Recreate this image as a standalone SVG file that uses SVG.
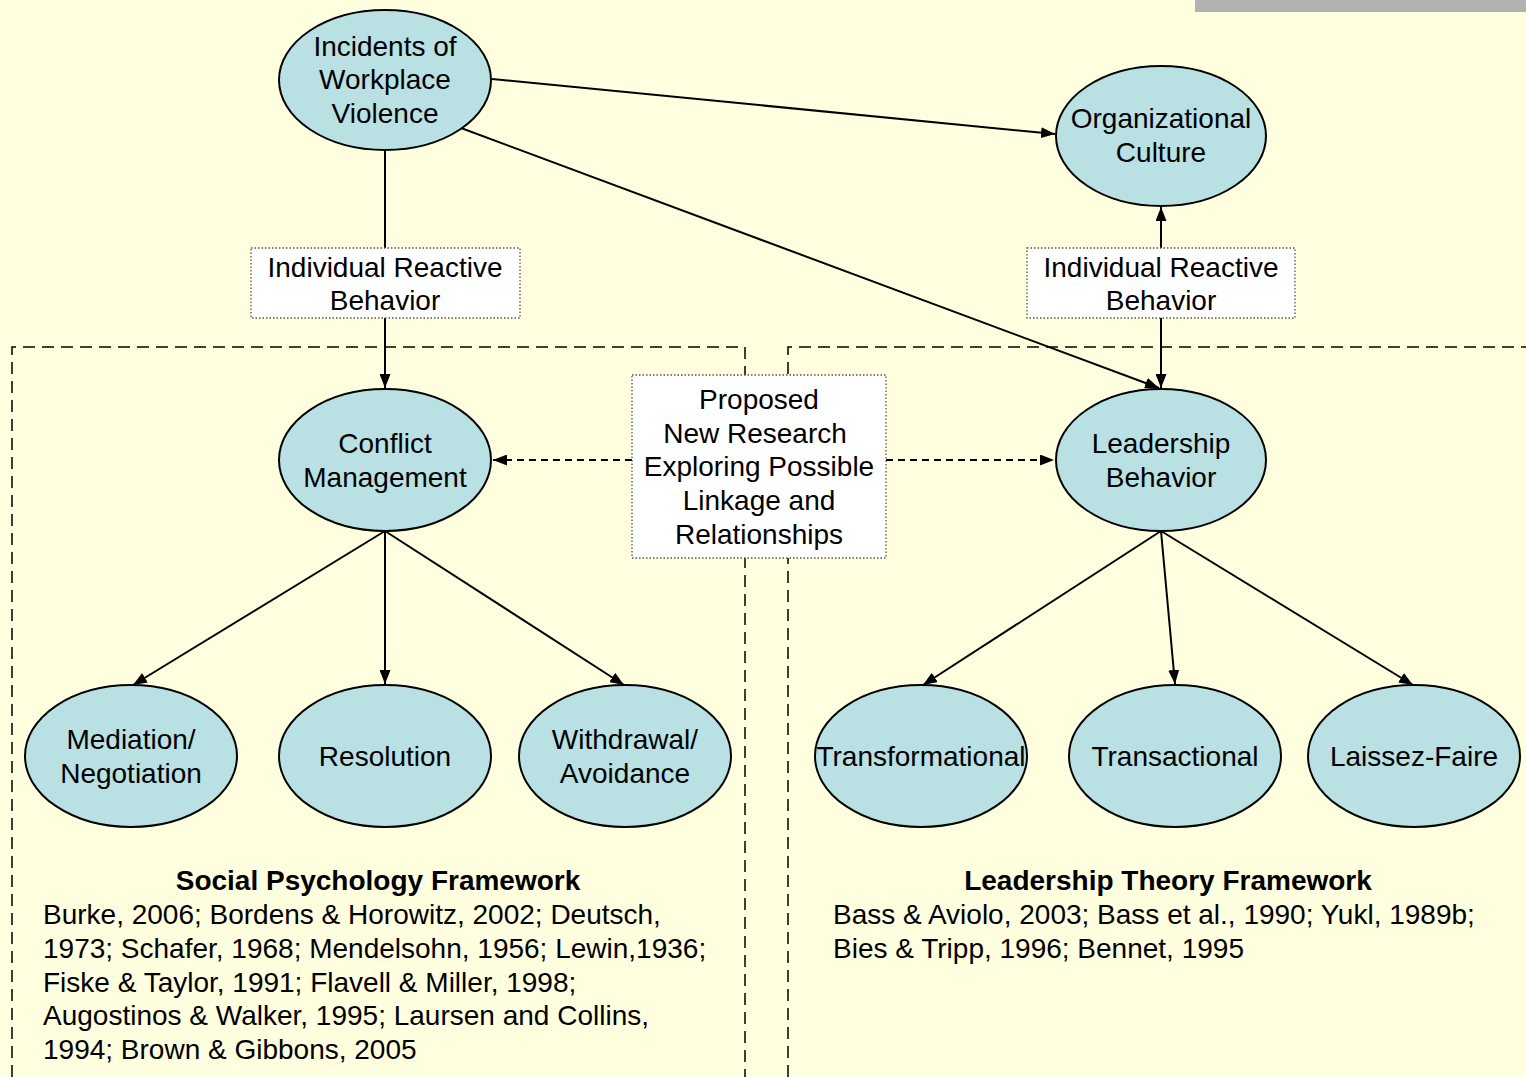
<svg xmlns="http://www.w3.org/2000/svg" width="1526" height="1077" viewBox="0 0 1526 1077">
<style>
.n ellipse{fill:#B9E0E3;stroke:#000;stroke-width:2}
.t{font-family:"Liberation Sans",Arial,sans-serif;font-size:28px;fill:#000;text-anchor:middle}
.ref{font-family:"Liberation Sans",Arial,sans-serif;font-size:28px;fill:#000}
.hd{font-family:"Liberation Sans",Arial,sans-serif;font-size:28px;font-weight:bold;fill:#000;text-anchor:middle}
.lb rect{fill:#fff;stroke:#555;stroke-width:1.3;stroke-dasharray:1.5 2}
.c line{stroke:#000;stroke-width:2}
.c .d{stroke-dasharray:7 5}
.fr{fill:none;stroke:#000;stroke-width:1.5;stroke-dasharray:12 7}
</style>
<defs>
<marker id="a" viewBox="0 0 14 11" refX="14" refY="5.5" markerWidth="14" markerHeight="11" markerUnits="userSpaceOnUse" orient="auto">
<path d="M0,0 L14,5.5 L0,11 z" fill="#000"/>
</marker>
</defs>
<rect width="1526" height="1077" fill="#FFFFE0"/>
<rect x="1195" y="0" width="331" height="12" fill="#B2B2B2"/>
<g id="frames">
<polyline class="fr" points="12,1077 12,347 745,347 745,1077"/>
<polyline class="fr" points="788,1077 788,347 1526,347"/>
</g>
<g id="connectors" class="c">
<line x1="385" y1="150" x2="385" y2="248"/>
<line x1="385" y1="318" x2="385" y2="388" marker-end="url(#a)"/>
<line x1="492" y1="79" x2="1055" y2="134" marker-end="url(#a)"/>
<line x1="461" y1="128" x2="1159" y2="388" marker-end="url(#a)"/>
<line x1="1161" y1="248" x2="1161" y2="207" marker-end="url(#a)"/>
<line x1="1161" y1="318" x2="1161" y2="388" marker-end="url(#a)"/>
<line class="d" x1="632" y1="460" x2="493" y2="460" marker-end="url(#a)"/>
<line class="d" x1="886" y1="460" x2="1054" y2="460" marker-end="url(#a)"/>
<line x1="385" y1="531" x2="133" y2="685" marker-end="url(#a)"/>
<line x1="385" y1="531" x2="385" y2="684" marker-end="url(#a)"/>
<line x1="385" y1="531" x2="624" y2="685" marker-end="url(#a)"/>
<line x1="1161" y1="531" x2="923" y2="685" marker-end="url(#a)"/>
<line x1="1161" y1="531" x2="1175" y2="684" marker-end="url(#a)"/>
<line x1="1161" y1="531" x2="1413" y2="685" marker-end="url(#a)"/>
</g>
<g id="lbl-left" class="lb"><rect x="251" y="248" width="269" height="70"/>
<text class="t" x="385" y="277">Individual Reactive</text><text class="t" x="385" y="310">Behavior</text></g>
<g id="lbl-right" class="lb"><rect x="1027" y="248" width="268" height="70"/>
<text class="t" x="1161" y="277">Individual Reactive</text><text class="t" x="1161" y="310">Behavior</text></g>
<g id="lbl-proposed" class="lb"><rect x="632" y="375" width="254" height="183"/>
<text class="t" x="759" y="409">Proposed</text>
<text class="t" x="755" y="443">New Research</text>
<text class="t" x="759" y="476">Exploring Possible</text>
<text class="t" x="759" y="510">Linkage and</text>
<text class="t" x="759" y="544">Relationships</text></g>
<g id="incidents" class="n"><ellipse cx="385" cy="80" rx="106" ry="70"/>
<text class="t" x="385" y="56">Incidents of</text><text class="t" x="385" y="89">Workplace</text><text class="t" x="385" y="123">Violence</text></g>
<g id="culture" class="n"><ellipse cx="1161" cy="136" rx="105" ry="70"/>
<text class="t" x="1161" y="128">Organizational</text><text class="t" x="1161" y="162">Culture</text></g>
<g id="conflict" class="n"><ellipse cx="385" cy="460" rx="106" ry="71"/>
<text class="t" x="385" y="453">Conflict</text><text class="t" x="385" y="487">Management</text></g>
<g id="leadership" class="n"><ellipse cx="1161" cy="460" rx="105" ry="71"/>
<text class="t" x="1161" y="453">Leadership</text><text class="t" x="1161" y="487">Behavior</text></g>
<g id="mediation" class="n"><ellipse cx="131" cy="756" rx="106" ry="71"/>
<text class="t" x="131" y="749">Mediation/</text><text class="t" x="131" y="783">Negotiation</text></g>
<g id="resolution" class="n"><ellipse cx="385" cy="756" rx="106" ry="71"/>
<text class="t" x="385" y="766">Resolution</text></g>
<g id="withdrawal" class="n"><ellipse cx="625" cy="756" rx="106" ry="71"/>
<text class="t" x="625" y="749">Withdrawal/</text><text class="t" x="625" y="783">Avoidance</text></g>
<g id="transformational" class="n"><ellipse cx="921" cy="756" rx="106" ry="71"/>
<text class="t" x="921" y="766">Transformational</text></g>
<g id="transactional" class="n"><ellipse cx="1175" cy="756" rx="106" ry="71"/>
<text class="t" x="1175" y="766">Transactional</text></g>
<g id="laissez" class="n"><ellipse cx="1414" cy="756" rx="106" ry="71"/>
<text class="t" x="1414" y="766">Laissez-Faire</text></g>
<g id="social-refs">
<text class="hd" x="378" y="890">Social Psychology Framework</text>
<text class="ref" x="43" y="924">Burke, 2006; Bordens &amp; Horowitz, 2002; Deutsch,</text>
<text class="ref" x="43" y="958">1973; Schafer, 1968; Mendelsohn, 1956; Lewin,1936;</text>
<text class="ref" x="43" y="992">Fiske &amp; Taylor, 1991; Flavell &amp; Miller, 1998;</text>
<text class="ref" x="43" y="1025">Augostinos &amp; Walker, 1995; Laursen and Collins,</text>
<text class="ref" x="43" y="1059">1994; Brown &amp; Gibbons, 2005</text>
</g>
<g id="leader-refs">
<text class="hd" x="1168" y="890">Leadership Theory Framework</text>
<text class="ref" x="833" y="924">Bass &amp; Aviolo, 2003; Bass et al., 1990; Yukl, 1989b;</text>
<text class="ref" x="833" y="958">Bies &amp; Tripp, 1996; Bennet, 1995</text>
</g>
</svg>
